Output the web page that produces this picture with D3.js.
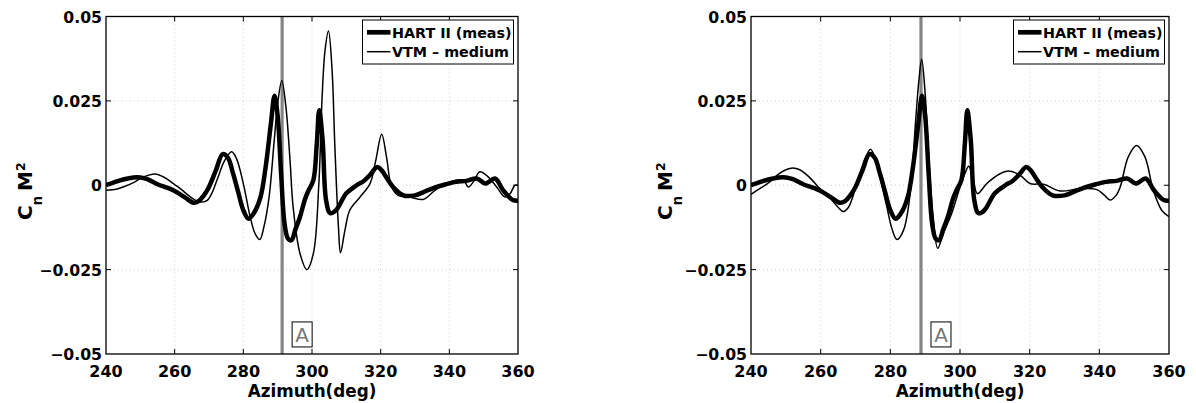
<!DOCTYPE html>
<html>
<head>
<meta charset="utf-8">
<script src="https://cdn.jsdelivr.net/npm/d3@7"></script>
<style>
  html, body { margin: 0; padding: 0; background: #fff; }
  svg { display: block; }
  text { font-family: "DejaVu Sans", "Liberation Sans", Arial, sans-serif; }
</style>
</head>
<body>
<div id="chart"></div>
<script>
// azimuth ticks / Cn M^2 ticks
const azTicks = [240, 260, 280, 300, 320, 340, 360]
const cnTicks = [-0.05, -0.025, 0, 0.025, 0.05]
const cnTickLabels = ["\u22120.05", "\u22120.025", "0", "0.025", "0.05"]

const seriesNames = ["HART II (meas)", "VTM \u2013 medium"]

// measured data (same in both panels)
const hartII = [
  [240, 0.0], [242.5, 0.0009], [245, 0.0017], [248, 0.0023], [250, 0.0023],
  [252, 0.0018], [255, 0.0003], [258, -0.0008], [260, -0.0017], [263, -0.0036],
  [265.5, -0.0052], [267, -0.0047], [268.5, -0.003], [270, -0.0005], [272, 0.0044],
  [274, 0.0092], [275.5, 0.0082], [277, 0.0035], [278.5, -0.002], [280, -0.0074],
  [281.5, -0.0099], [283, -0.0084], [285, -0.0035], [286.5, 0.0054], [288, 0.018],
  [289.1, 0.0265], [290, 0.0205], [291, 0.0035], [292, -0.0113], [293, -0.0158],
  [294, -0.0163], [295.2, -0.013], [296.5, -0.0094], [298, -0.004], [299, -0.0015],
  [300.4, 0.0015], [301.4, 0.0124], [302.1, 0.0222], [303.1, 0.0133], [304.1, -0.0044],
  [305.3, -0.0083], [307, -0.0074], [310, -0.0024], [313, 0.0], [315, 0.0012],
  [317, 0.0032], [319, 0.0054], [320.3, 0.0044], [322, 0.0018], [323.6, -0.0005],
  [326.6, -0.003], [330, -0.003], [333, -0.0018], [336.3, -0.0005], [339, 0.0003],
  [342, 0.001], [345, 0.0013], [348, 0.002], [350.5, 0.0005], [353.3, 0.002],
  [355.7, -0.0015], [358.5, -0.0044], [360, -0.0046]
]

// VTM, left panel
const vtmLeft = [
  [240, -0.0015], [243, -0.0012], [245, -0.0005], [248, 0.0008], [250, 0.002],
  [252.5, 0.003], [254.5, 0.0033], [256.5, 0.0026], [258, 0.0017], [260, 0.0002],
  [262, -0.0013], [264, -0.003], [266, -0.0044], [268, -0.005], [269.5, -0.0045],
  [271, -0.002], [272.5, 0.002], [274.5, 0.0072], [276.6, 0.0099], [278, 0.0079],
  [280, 0.0005], [282, -0.0094], [283.5, -0.0145], [284.8, -0.0161], [286, -0.0123],
  [287.5, -0.0035], [289, 0.0133], [290, 0.0242], [291.2, 0.031], [292.4, 0.0232],
  [293.6, 0.0074], [294.5, -0.0064], [296.5, -0.0202], [298.5, -0.025], [300.4, -0.0202],
  [302, 0.0005], [302.9, 0.0251], [303.8, 0.040], [304.8, 0.0457], [305.8, 0.035],
  [306.7, 0.0104], [307.7, -0.0123], [308.3, -0.02], [309.6, -0.0133], [311, -0.0074],
  [314, -0.0035], [316.9, 0.0005], [318.5, 0.007], [320.3, 0.0151], [321.7, 0.0084],
  [323.2, -0.0005], [325.1, -0.003], [328.5, -0.0035], [332.4, -0.0042], [335.8, -0.0015],
  [340.2, 0.001], [344.1, 0.0015], [345.5, -0.0005], [347, 0.001], [348.9, 0.004],
  [351.3, 0.0025], [353.8, -0.0005], [356.2, -0.0035], [357.7, -0.0025], [359.1, 0.0],
  [360, 0.0]
]

// VTM, right panel
const vtmRight = [
  [240, -0.0027], [242.5, -0.001], [245, 0.0007], [247.9, 0.0033], [250, 0.0046],
  [252, 0.0051], [254, 0.0046], [255.5, 0.0035], [257.5, 0.0016], [259.3, -0.0005],
  [263.2, -0.0044], [265, -0.0065], [266.5, -0.0078], [268, -0.0065], [268.9, -0.0044],
  [271.3, 0.0035], [273, 0.0085], [274.3, 0.0107], [275.5, 0.0085], [276.6, 0.0044],
  [279, -0.0064], [280.5, -0.013], [281.9, -0.0161], [283.8, -0.0133], [285.8, -0.0015],
  [287.2, 0.0182], [288.2, 0.031], [289, 0.0373], [290, 0.0271], [290.9, 0.0104],
  [292.3, -0.0094], [293.6, -0.0187], [295.2, -0.0143], [297.6, -0.0084], [300, -0.0005],
  [301.4, 0.0034], [302.5, 0.0056], [303.8, 0.0015], [305, -0.0025], [307.7, 0.0005],
  [311.5, 0.0034], [313.9, 0.0042], [317.2, 0.003], [320.1, 0.0005], [324, 0.0003],
  [328.7, -0.0017], [334.5, -0.001], [339.3, -0.0013], [341.5, -0.003], [343.1, -0.0044],
  [344.8, -0.003], [346, -0.0005], [348.3, 0.0084], [350.7, 0.0118], [353.1, 0.0084],
  [355.5, -0.0015], [357.9, -0.0074], [360, -0.0093]
]

// azimuth of the grey "A" marker in each panel
const markerAz = [291.3, 288.8]

const width = 1196
const height = 403

const panels = [
  { left: 106, right: 518, vtm: vtmLeft, marker: markerAz[0], labelOff: 74.5 },
  { left: 751, right: 1169, vtm: vtmRight, marker: markerAz[1], labelOff: 79 }
]
const plotTop = 16.5
const plotBottom = 354

const svg = d3.select("#chart")
  .append("svg")
  .attr("width", width)
  .attr("height", height)
  .attr("viewBox", [0, 0, width, height])

svg.append("rect").attr("width", width).attr("height", height).attr("fill", "#fff")

const y = d3.scaleLinear().domain([-0.05, 0.05]).range([plotBottom, plotTop])

panels.forEach((p, i) => {
  const x = d3.scaleLinear().domain([240, 360]).range([p.left, p.right])
  const g = svg.append("g")

  const clipId = `clip${i}`
  g.append("clipPath").attr("id", clipId)
    .append("rect")
    .attr("x", p.left).attr("y", plotTop)
    .attr("width", p.right - p.left).attr("height", plotBottom - plotTop)

  // Grid
  g.append("g")
    .selectAll("line")
    .data(azTicks.slice(1, -1))
    .join("line")
    .attr("x1", d => x(d)).attr("x2", d => x(d))
    .attr("y1", plotTop).attr("y2", plotBottom)
    .attr("stroke", "#c8c8c8")
    .attr("stroke-width", 0.8)
    .attr("stroke-dasharray", "1,3")

  g.append("g")
    .selectAll("line")
    .data(cnTicks.slice(1, -1))
    .join("line")
    .attr("x1", p.left).attr("x2", p.right)
    .attr("y1", d => y(d)).attr("y2", d => y(d))
    .attr("stroke", "#c8c8c8")
    .attr("stroke-width", 0.8)
    .attr("stroke-dasharray", "1,3")

  // Marker line
  g.append("line")
    .attr("x1", x(p.marker)).attr("x2", x(p.marker))
    .attr("y1", plotTop).attr("y2", plotBottom)
    .attr("stroke", "#858585")
    .attr("stroke-width", 3.2)

  const line = d3.line()
    .x(d => x(d[0]))
    .y(d => y(d[1]))
    .curve(d3.curveCatmullRom.alpha(0.5))

  const curves = g.append("g").attr("clip-path", `url(#${clipId})`)

  curves.append("path")
    .datum(p.vtm)
    .attr("fill", "none")
    .attr("stroke", "#000")
    .attr("stroke-width", 1.5)
    .attr("stroke-linejoin", "round")
    .attr("d", line)

  curves.append("path")
    .datum(hartII)
    .attr("fill", "none")
    .attr("stroke", "#000")
    .attr("stroke-width", 4.5)
    .attr("stroke-linejoin", "round")
    .attr("d", line)

  // "A" label box
  const ax = x(p.marker) + 10
  const ay = y(-0.0405)
  g.append("rect")
    .attr("x", ax).attr("y", ay)
    .attr("width", 20).attr("height", 25)
    .attr("fill", "#fff")
    .attr("stroke", "#000")
    .attr("stroke-width", 1)
  g.append("text")
    .attr("x", ax + 10).attr("y", ay + 20)
    .attr("text-anchor", "middle")
    .attr("fill", "#777")
    .attr("font-family", "'Liberation Sans', Arial, sans-serif")
    .attr("font-size", "20px")
    .text("A")

  // Frame
  g.append("rect")
    .attr("x", p.left).attr("y", plotTop)
    .attr("width", p.right - p.left).attr("height", plotBottom - plotTop)
    .attr("fill", "none")
    .attr("stroke", "#000")
    .attr("stroke-width", 1.3)

  // Ticks (inside, all four sides)
  const tickLen = 5
  const ticks = g.append("g").attr("stroke", "#000").attr("stroke-width", 1)
  azTicks.slice(1, -1).forEach(t => {
    ticks.append("line").attr("x1", x(t)).attr("x2", x(t)).attr("y1", plotBottom).attr("y2", plotBottom - tickLen)
    ticks.append("line").attr("x1", x(t)).attr("x2", x(t)).attr("y1", plotTop).attr("y2", plotTop + tickLen)
  })
  cnTicks.slice(1, -1).forEach(t => {
    ticks.append("line").attr("x1", p.left).attr("x2", p.left + tickLen).attr("y1", y(t)).attr("y2", y(t))
    ticks.append("line").attr("x1", p.right).attr("x2", p.right - tickLen).attr("y1", y(t)).attr("y2", y(t))
  })

  // Tick labels
  g.append("g")
    .selectAll("text")
    .data(azTicks)
    .join("text")
    .attr("x", d => x(d))
    .attr("y", 377)
    .attr("text-anchor", "middle")
    .attr("font-size", "16px")
    .attr("font-weight", "bold")
    .text(d => d)

  g.append("g")
    .selectAll("text")
    .data(cnTicks)
    .join("text")
    .attr("x", p.left - 4)
    .attr("y", d => y(d) + 6)
    .attr("text-anchor", "end")
    .attr("font-size", "15.7px")
    .attr("font-weight", "bold")
    .text((d, k) => cnTickLabels[k])

  // Axis labels
  g.append("text")
    .attr("x", (p.left + p.right) / 2)
    .attr("y", 396.5)
    .attr("text-anchor", "middle")
    .attr("font-size", "16.8px")
    .attr("font-weight", "bold")
    .text("Azimuth(deg)")

  const yl = g.append("text")
    .attr("transform", `translate(${p.left - p.labelOff},${(plotTop + plotBottom) / 2 + 6}) rotate(-90)`)
    .attr("text-anchor", "middle")
    .attr("font-family", "'Liberation Sans', Arial, sans-serif")
    .attr("font-size", "20px")
    .attr("font-weight", "bold")
  yl.append("tspan").text("C")
  yl.append("tspan").attr("font-size", "13.6px").attr("dy", 10).text("n\u00a0")
  yl.append("tspan").attr("dy", -10).text("M")
  yl.append("tspan").attr("font-size", "12.5px").attr("dy", -7).text("2")

  // Legend
  const lx = p.right - 155.5
  const lg = g.append("g")
  lg.append("rect")
    .attr("x", lx).attr("y", plotTop + 3.5)
    .attr("width", 151).attr("height", 44)
    .attr("fill", "#fff")
    .attr("stroke", "#000")
    .attr("stroke-width", 1)
  const rows = [
    { name: seriesNames[0], w: 4.7, y: plotTop + 15.8 },
    { name: seriesNames[1], w: 1.5, y: plotTop + 35.2 }
  ]
  rows.forEach(r => {
    lg.append("line")
      .attr("x1", lx + 4.5).attr("x2", lx + 28)
      .attr("y1", r.y).attr("y2", r.y)
      .attr("stroke", "#000")
      .attr("stroke-width", r.w)
    lg.append("text")
      .attr("x", lx + 29.5)
      .attr("y", r.y + 5.5)
      .attr("font-size", "14.3px")
      .attr("font-weight", "bold")
      .text(r.name)
  })
})
</script>
</body>
</html>
